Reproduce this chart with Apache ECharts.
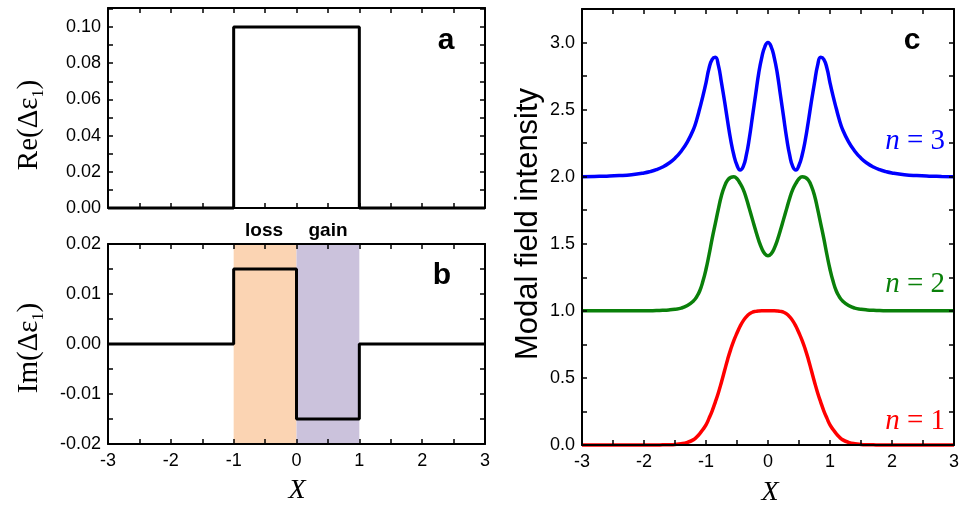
<!DOCTYPE html>
<html><head><meta charset="utf-8">
<script src="https://cdn.jsdelivr.net/npm/echarts@6/dist/echarts.min.js"></script>
<style>html,body{margin:0;padding:0;background:#fff}#c{width:962px;height:512px}</style>
</head><body><div id="c"></div>
<script>
// Panel a: Re(Δε1) step profile
const reX = [-3, -1, -1, 1, 1, 3];
const reY = [0, 0, 0.1, 0.1, 0, 0];
// Panel b: Im(Δε1) step profile
const imX = [-3, -1, -1, 0, 0, 1, 1, 3];
const imY = [0, 0, 0.015, 0.015, -0.015, -0.015, 0, 0];
const lossRange = [-1, 0];
const gainRange = [0, 1];
// Panel c: modal field intensities (offset by n-1)
const modeX = [-3,-2.8,-2.6,-2.4,-2.2,-2.0,-1.9,-1.8,-1.7,-1.6,-1.5,-1.4,-1.3,-1.2,
  -1.15,-1.1,-1.05,-1,-0.95,-0.9,-0.85,-0.8,-0.75,-0.7,-0.65,-0.6,-0.55,-0.5,-0.45,-0.4,-0.35,-0.3,-0.25,-0.2,-0.15,-0.1,-0.05,
  0,
  0.05,0.1,0.15,0.2,0.25,0.3,0.35,0.4,0.45,0.5,0.55,0.6,0.65,0.7,0.75,0.8,0.85,0.9,0.95,1,1.05,1.1,1.15,
  1.2,1.3,1.4,1.5,1.6,1.7,1.8,1.9,2.0,2.2,2.4,2.6,2.8,3.0];
const mode1 = [0,0,0,0,0,0,0,0,0.001,0.002,0.004,0.009,0.02,0.04,
  0.06,0.085,0.115,0.15,0.20,0.255,0.32,0.39,0.47,0.555,0.64,0.715,0.78,0.835,0.885,0.925,0.955,0.977,0.99,0.996,0.999,1.0,1.0,
  1.0,
  1.0,1.0,0.999,0.996,0.99,0.977,0.955,0.925,0.885,0.835,0.78,0.715,0.64,0.555,0.47,0.39,0.32,0.255,0.20,0.15,0.115,0.085,0.06,
  0.04,0.02,0.009,0.004,0.002,0.001,0,0,0,0,0,0,0,0];
const mode2 = [1,1,1,1,1,1,1.001,1.002,1.004,1.007,1.012,1.02,1.04,1.075,
  1.105,1.15,1.22,1.31,1.42,1.54,1.65,1.76,1.86,1.93,1.975,1.995,2.0,1.985,1.95,1.905,1.84,1.76,1.68,1.60,1.525,1.465,1.425,
  1.41,
  1.425,1.465,1.525,1.60,1.68,1.76,1.84,1.905,1.95,1.985,2.0,1.995,1.975,1.93,1.86,1.76,1.65,1.54,1.42,1.31,1.22,1.15,1.105,
  1.075,1.04,1.02,1.012,1.007,1.004,1.002,1.001,1,1,1,1,1,1];
const mode3 = [2.0,2.002,2.004,2.008,2.015,2.028,2.038,2.052,2.072,2.10,2.138,2.19,2.26,2.355,
  2.425,2.51,2.60,2.70,2.81,2.875,2.89,2.83,2.70,2.56,2.41,2.27,2.16,2.085,2.05,2.075,2.16,2.29,2.45,2.61,2.77,2.89,2.97,
  3.0,
  2.97,2.89,2.77,2.61,2.45,2.29,2.16,2.075,2.05,2.085,2.16,2.27,2.41,2.56,2.70,2.83,2.89,2.875,2.81,2.70,2.60,2.51,2.425,
  2.355,2.26,2.19,2.138,2.10,2.072,2.052,2.038,2.028,2.015,2.008,2.004,2.002,2.0];
const modeNames = ['n = 1', 'n = 2', 'n = 3'];
const modeColors = ['#ff0000', '#0a800a', '#0000ff'];
const lossColor = '#fbd4b3';
const gainColor = '#cbc2dc';

const SANS = 'Liberation Sans, Arial, Helvetica, sans-serif';
const SERIF = 'Liberation Serif, Times New Roman, serif';
const pair = (xs, ys) => xs.map((x, i) => [x, ys[i]]);

function xAx(gi, pos, labels) {
  return {
    type: 'value', gridIndex: gi, position: pos, min: -3, max: 3, interval: 0.5, z: 5,
    axisLine: { show: true, onZero: false, lineStyle: { color: '#000', width: 2 } },
    axisTick: { show: true, inside: true, length: 5, lineStyle: { color: '#000', width: 1.5 } },
    axisLabel: { show: labels, margin: 8, fontSize: 18, color: '#000', fontFamily: SANS,
      formatter: v => Number.isInteger(Math.round(v * 1000) / 1000) ? String(Math.round(v)) : '' },
    splitLine: { show: false }
  };
}
function yAx(gi, pos, labels, min, max, interval, fmt) {
  return {
    type: 'value', gridIndex: gi, position: pos, min: min, max: max, interval: interval, z: 5,
    axisLine: { show: true, onZero: false, lineStyle: { color: '#000', width: 2 } },
    axisTick: { show: true, inside: true, length: 5, lineStyle: { color: '#000', width: 1.5 } },
    axisLabel: { show: labels, margin: 7, fontSize: 18, color: '#000', fontFamily: SANS, formatter: fmt },
    splitLine: { show: false }
  };
}
const fmtA = v => { const k = Math.round(v * 100); return (k % 2 === 0 && k <= 10) ? (k / 100).toFixed(2) : ''; };
const fmtB = v => { const k = Math.round(v * 1000); return (k % 10 === 0) ? (k / 1000).toFixed(2) : ''; };
const fmtC = v => { const k = Math.round(v * 100); return (k % 50 === 0 && k <= 300) ? (k / 100).toFixed(1) : ''; };

function txt(x, y, text, font, extra) {
  return Object.assign({ type: 'text', x: x, y: y, z: 50,
    style: { text: text, font: font, fill: '#000', align: 'center', verticalAlign: 'middle' } }, extra || {});
}
function subText(x, y, main) {
  return { type: 'text', x: x, y: y, rotation: Math.PI / 2, z: 50,
    style: { text: '{m|' + main + '}{s|1}{m|)}', align: 'center', verticalAlign: 'middle',
      rich: { m: { fontSize: 29, fontFamily: SERIF, lineHeight: 36, verticalAlign: 'middle', fill: '#000' },
              s: { fontSize: 16, fontFamily: SERIF, lineHeight: 18, verticalAlign: 'bottom', fill: '#000' } } } };
}
function nLabel(y, num, color) {
  return { type: 'text', x: 945, y: y, z: 50,
    style: { text: '{i|n}{r| = ' + num + '}', align: 'right', verticalAlign: 'middle',
      rich: { i: { fontSize: 29, fontFamily: SERIF, fontStyle: 'italic', fill: color },
              r: { fontSize: 29, fontFamily: SERIF, fill: color } } } };
}
function modeSeries(i, ys) {
  return { name: modeNames[i], type: 'line', xAxisIndex: 4, yAxisIndex: 4, data: pair(modeX, ys), symbol: 'none',
    smooth: 0.5, clip: false, lineStyle: { color: modeColors[i], width: 3.5 }, z: 3 };
}

const chart = echarts.init(document.getElementById('c'), null, { renderer: 'canvas' });
chart.setOption({
  animation: false,
  backgroundColor: '#fff',
  grid: [
    { left: 108, top: 8, width: 377, height: 200 },
    { left: 108, top: 244, width: 377, height: 200 },
    { left: 582, top: 9, width: 377, height: 436 }
  ],
  xAxis: [xAx(0, 'bottom', false), xAx(0, 'top', false), xAx(1, 'bottom', true), xAx(1, 'top', false),
          xAx(2, 'bottom', true), xAx(2, 'top', false)],
  yAxis: [yAx(0, 'left', true, 0, 0.1105, 0.01, fmtA), yAx(0, 'right', false, 0, 0.1105, 0.01, fmtA),
          yAx(1, 'left', true, -0.02, 0.02, 0.005, fmtB), yAx(1, 'right', false, -0.02, 0.02, 0.005, fmtB),
          yAx(2, 'left', true, 0, 3.25, 0.25, fmtC), yAx(2, 'right', false, 0, 3.25, 0.25, fmtC)],
  series: [
    { type: 'line', xAxisIndex: 0, yAxisIndex: 0, data: pair(reX, reY), symbol: 'none', clip: false,
      lineStyle: { color: '#000', width: 3 }, z: 3 },
    { type: 'line', xAxisIndex: 2, yAxisIndex: 2, data: pair(imX, imY), symbol: 'none', clip: false,
      lineStyle: { color: '#000', width: 3 }, z: 3,
      markArea: { silent: true, z: 1, data: [
        [{ xAxis: lossRange[0], itemStyle: { color: lossColor } }, { xAxis: lossRange[1] }],
        [{ xAxis: gainRange[0], itemStyle: { color: gainColor } }, { xAxis: gainRange[1] }]
      ] } },
    modeSeries(0, mode1),
    modeSeries(1, mode2),
    modeSeries(2, mode3)
  ],
  graphic: [
    subText(29, 125, 'Re(Δε'),
    subText(29, 348, 'Im(Δε'),
    txt(528, 224, 'Modal field intensity', '31px ' + SANS, { rotation: Math.PI / 2 }),
    txt(297, 491, 'X', 'italic 28px ' + SERIF),
    txt(770, 493, 'X', 'italic 28px ' + SERIF),
    txt(446, 41, 'a', 'bold 30px ' + SANS),
    txt(442, 276, 'b', 'bold 30px ' + SANS),
    txt(912, 41, 'c', 'bold 30px ' + SANS),
    txt(264, 231, 'loss', 'bold 19px ' + SANS),
    txt(328, 231, 'gain', 'bold 19px ' + SANS),
    nLabel(141, 3, modeColors[2]),
    nLabel(284, 2, modeColors[1]),
    nLabel(421, 1, modeColors[0])
  ]
});
</script>
</body></html>
